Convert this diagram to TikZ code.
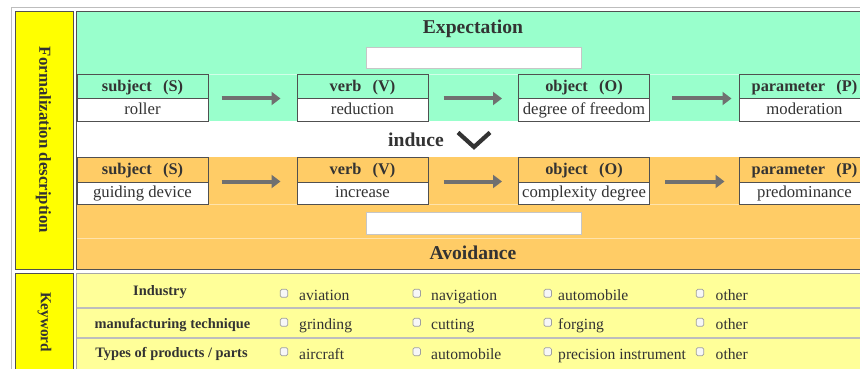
\documentclass[tikz,border=0pt]{standalone}
\usepackage{fontspec}
\setmainfont{Liberation Serif}
\usetikzlibrary{arrows.meta}

\definecolor{mint}{HTML}{99FFCC}
\definecolor{apricot}{HTML}{FFCC66}
\definecolor{lemon}{HTML}{FFFF00}
\definecolor{cream}{HTML}{FFFF99}
\definecolor{ink}{HTML}{333333}
\definecolor{frame}{HTML}{505050}
\definecolor{rule}{HTML}{BDBDBD}
\definecolor{shaft}{HTML}{707070}

% header label with wide brackets
\newcommand\hlab[2]{#1\hspace{0.7em}(#2)\hspace{0.7em}}

\begin{document}
\begin{tikzpicture}[x=1pt,y=-1pt,
  hdr/.style={draw=frame, line width=1pt, minimum width=131pt, minimum height=24pt,
    inner sep=0pt, text height=11.5pt, text depth=2.5pt,
    font=\bfseries\fontsize{16.3}{18}\selectfont, text=ink},
  val/.style={hdr, fill=white, minimum height=22pt, font=\fontsize{16.7}{18}\selectfont},
  flow/.style={draw=shaft, line width=4pt, -{Triangle[length=9pt,width=13pt]}},
  heading/.style={font=\bfseries\fontsize{19.6}{21}\selectfont, text=ink, inner sep=0pt, anchor=base},
  blank/.style={draw=gray!45, line width=1pt, fill=white, minimum width=215pt, inner sep=0pt},
  side/.style={rotate=-90, font=\bfseries, text=ink, inner sep=0pt},
  kw/.style={font=\bfseries\fontsize{14.4}{16}\selectfont, text=ink, inner sep=0pt, anchor=base},
  opt/.style={font=\fontsize{15.6}{17}\selectfont, text=ink, inner sep=0pt, anchor=base west},
  chk/.style={draw=gray!75, fill=gray!6, rounded corners=1.5pt, minimum width=7.5pt,
    minimum height=8pt, inner sep=0pt, line width=0.7pt},
  cell/.style={draw=frame, line width=1pt}
]
\useasboundingbox (0,0) rectangle (860,369);
\clip (0,0) rectangle (860,369);

% outer table frame
\draw[rule, line width=1.5pt] (11.5,380) -- (11.5,7.5) -- (870,7.5);

% left heading cells
\draw[cell, fill=lemon] (15,12) rectangle (73,269);
\draw[cell, fill=lemon] (15,273) rectangle (73,380);
\node[side, font=\bfseries\fontsize{16.8}{18}\selectfont] (formal) at (43.5,140) {Formalization description};
\node[side, font=\bfseries\fontsize{15.2}{17}\selectfont] (keyw) at (44.5,322) {Keyword};

% formalization cell: expectation band, gap, avoidance band
\fill[mint] (76.5,12) rectangle (870,121);
\fill[apricot] (76.5,157) rectangle (870,269);
\draw[white, opacity=0.55, line width=1pt] (77,74.5) -- (870,74.5);
\draw[white, opacity=0.45, line width=1pt] (77,204.5) -- (870,204.5);
\draw[white, opacity=0.45, line width=1pt] (77,238) -- (870,238);
\draw[cell] (76.5,11.5) rectangle (875,269.5);

% expectation band
\node[heading] (expect) at (473,33.3) {Expectation};
\node[blank, minimum height=21pt] (expin) at (473.5,58.5) {};

\node[hdr] (s1) at (142.5,87) {\hlab{subject}{S}};
\node[val] (s1v) at (142.5,110) {roller};
\node[hdr] (v1) at (362.5,87) {\hlab{verb}{V}};
\node[val] (v1v) at (362.5,110) {reduction};
\node[hdr] (o1) at (584,87) {\hlab{object}{O}};
\node[val] (o1v) at (584,110) {degree of freedom};
\node[hdr] (p1) at (804.5,87) {\hlab{parameter}{P}};
\node[val] (p1v) at (804.5,110) {moderation};

\draw[flow] ([xshift=13pt]s1v.north east) -- ([xshift=-16pt]v1v.north west);
\draw[flow] ([xshift=15pt]v1v.north east) -- ([xshift=-16pt]o1v.north west);
\draw[flow] ([xshift=22pt]o1v.north east) -- ([xshift=-7pt]p1v.north west);

% link between the bands
\node[heading] (induce) at (416,146.7) {induce};
\draw[ink, line width=4.2pt] (458,132.5) -- (474,147) -- (490,132.5);

% avoidance band
\node[hdr, minimum height=25pt] (s2) at (142.5,169.5) {\hlab{subject}{S}};
\node[val] (s2v) at (142.5,193) {guiding device};
\node[hdr, minimum height=25pt] (v2) at (362.5,169.5) {\hlab{verb}{V}};
\node[val] (v2v) at (362.5,193) {increase};
\node[hdr, minimum height=25pt] (o2) at (584,169.5) {\hlab{object}{O}};
\node[val] (o2v) at (584,193) {complexity degree};
\node[hdr, minimum height=25pt] (p2) at (804.5,169.5) {\hlab{parameter}{P}};
\node[val] (p2v) at (804.5,193) {predominance};

\draw[flow] ([xshift=13pt]s2v.north east) -- ([xshift=-16pt]v2v.north west);
\draw[flow] ([xshift=15pt]v2v.north east) -- ([xshift=-16pt]o2v.north west);
\draw[flow] ([xshift=15pt]o2v.north east) -- ([xshift=-14pt]p2v.north west);

\node[blank, minimum height=22pt] (avin) at (473.5,223) {};
\node[heading] (avoid) at (473,259.3) {Avoidance};

% keyword cell
\draw[draw=gray!70, line width=1pt, fill=cream] (76.5,273.5) rectangle (875,380);
\draw[rule, line width=1.5pt] (77,308) -- (870,308);
\draw[rule, line width=1.5pt] (77,338) -- (870,338);

\node[kw] (k1) at (160,295.7) {Industry};
\node[kw] (k2) at (172.5,328) {manufacturing technique};
\node[kw] (k3) at (171.5,357.7) {Types of products / parts};

\foreach \r/\cy/\by/\pa/\pb/\pc/\pd in {
    1/293.3/300.5/aviation/navigation/automobile/other,
    2/322.3/329.8/grinding/cutting/forging/other,
    3/351.7/359/aircraft/automobile/precision instrument/other} {
  \foreach \k/\bx/\lx/\txt in {1/284/299/\pa, 2/416.7/431/\pb, 3/547.7/558/\pc, 4/700/715.5/\pd} {
    \node[chk] (box\r\k) at (\bx,\cy) {};
    \node[opt] (opt\r\k) at (\lx,\by) {\txt};
  }
}
\end{tikzpicture}
\end{document}
